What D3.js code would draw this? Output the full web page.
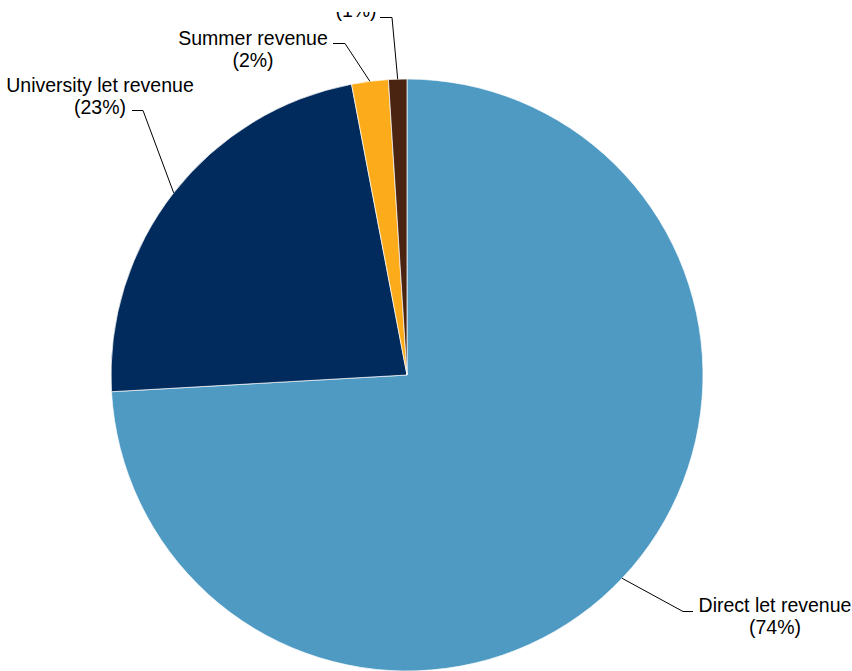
<!DOCTYPE html>
<html>
<head>
<meta charset="utf-8">
<script src="https://cdn.jsdelivr.net/npm/d3@7"></script>
<style>
  html, body { margin: 0; padding: 0; background: #fff; }
  #chart { width: 852px; height: 671px; }
  text { font-family: "Liberation Sans", Arial, sans-serif; font-size: 19.5px; fill: #000; }
</style>
</head>
<body>
<div id="chart"></div>
<script>
// data
const categories = ["Direct let revenue", "University let revenue", "Summer revenue", "Other revenue"];
const shares = [74.1, 22.9, 2.0, 1.0];
const pctLabels = ["(74%)", "(23%)", "(2%)", "(1%)"];
const colors = ["#4e9ac3", "#002b5c", "#fcab1a", "#4a2411"];

// label layout: text centre x, first baseline y, elbow x, end x, leader y
const labelLayout = [
  { x: 775, y: 612, elbowX: 683, endX: 693, lineY: 611.5 },
  { x: 100, y: 92, elbowX: 143, endX: 132, lineY: 110.5 },
  { x: 253, y: 45, elbowX: 345, endX: 333, lineY: 43.5 },
  { x: 356, y: -5, elbowX: 392, endX: 380, lineY: 17.5 }
];

const width = 852, height = 671;
const cx = 407, cy = 375, radius = 296;
const lineH = 21.5;

const svg = d3.select("#chart").append("svg")
  .attr("width", width).attr("height", height);

// the reference plot area cuts labels off near the top
svg.append("clipPath").attr("id", "labelClip")
  .append("rect").attr("x", 0).attr("y", 12).attr("width", width).attr("height", height - 12);

const data = categories.map((c, i) => ({ name: c, value: shares[i], pct: pctLabels[i], color: colors[i], lay: labelLayout[i] }));

const pie = d3.pie().sort(null).value(d => d.value);
const arc = d3.arc().innerRadius(0).outerRadius(radius);
const edgeArc = d3.arc().innerRadius(radius).outerRadius(radius);

const g = svg.append("g").attr("transform", `translate(${cx},${cy})`);
const arcs = pie(data);

// slices
g.selectAll("path.slice")
  .data(arcs)
  .join("path")
  .attr("class", "slice")
  .attr("d", arc)
  .attr("fill", d => d.data.color)
  .attr("stroke", "#fff")
  .attr("stroke-width", 0.7);

// leader lines
svg.selectAll("polyline.leader")
  .data(arcs)
  .join("polyline")
  .attr("class", "leader")
  .attr("fill", "none")
  .attr("stroke", "#000")
  .attr("stroke-width", 1)
  .attr("points", d => {
    const [ex, ey] = edgeArc.centroid(d);
    const L = d.data.lay;
    return [[cx + ex, cy + ey], [L.elbowX, L.lineY], [L.endX, L.lineY]].map(p => p.join(",")).join(" ");
  });

// labels
const labels = svg.append("g").attr("clip-path", "url(#labelClip)")
  .selectAll("text.lbl")
  .data(arcs)
  .join("text")
  .attr("class", "lbl")
  .attr("text-anchor", "middle");

labels.append("tspan")
  .attr("x", d => d.data.lay.x)
  .attr("y", d => d.data.lay.y)
  .text(d => d.data.name);

labels.append("tspan")
  .attr("x", d => d.data.lay.x)
  .attr("y", d => d.data.lay.y + lineH)
  .text(d => d.data.pct);
</script>
</body>
</html>
